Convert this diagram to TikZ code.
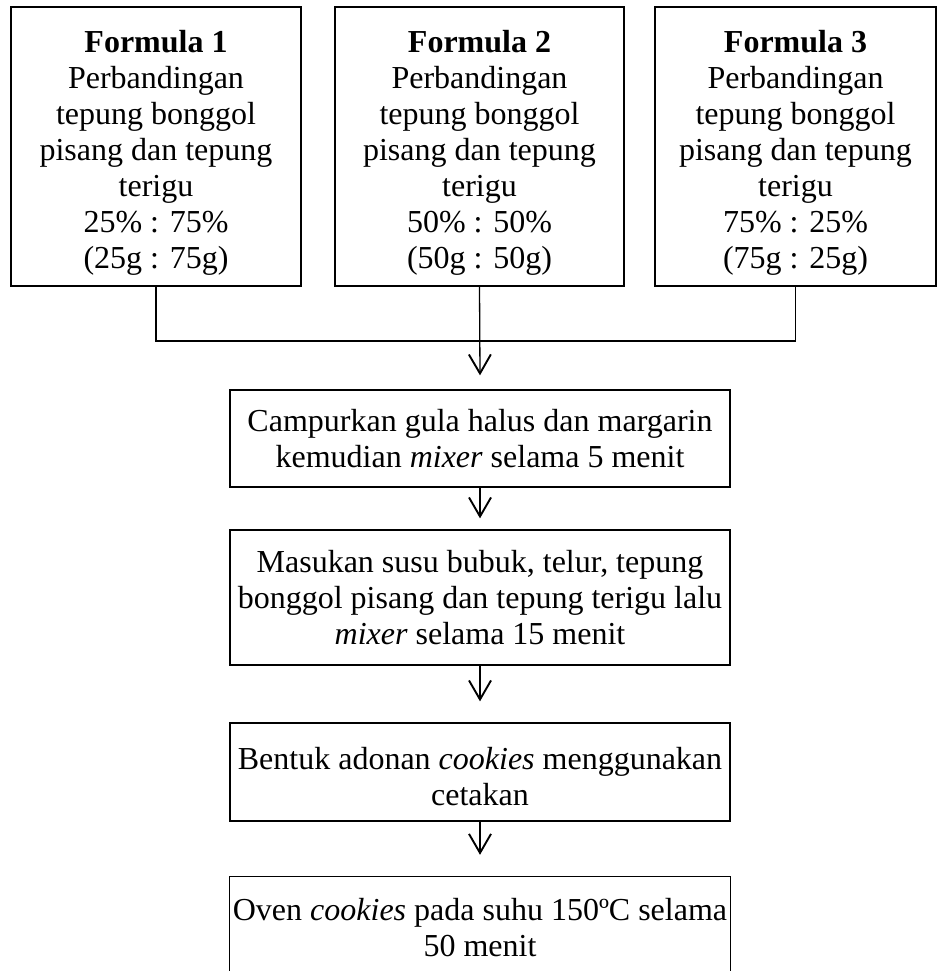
\documentclass[tikz,border=0pt]{standalone}
\usepackage{fontspec}
\setmainfont{Liberation Serif}
\usetikzlibrary{arrows.meta}
\newcommand{\toppad}[1]{\rule{0pt}{#1}}
\begin{document}
\begin{tikzpicture}[x=1pt,y=-1pt,
  every node/.style={font=\fontsize{32}{36}\selectfont, align=center, inner sep=0pt},
  fbox/.style={draw, line width=1.3pt, minimum height=279pt},
  sbox/.style={draw, line width=1.3pt, minimum width=500pt},
  conn/.style={line width=1.3pt},
  arr/.style={line width=1.3pt, -{Straight Barb[length=19pt,width=22pt,line width=1.9pt]}}]
\useasboundingbox (0,0) rectangle (940,971);
\node[fbox, minimum width=290pt] (f1) at (156,146.5)
  {\toppad{34pt}\textbf{Formula 1}\\Perbandingan\\tepung bonggol\\pisang dan tepung\\terigu\\25\% : 75\%\\(25g : 75g)};
\node[fbox, minimum width=289pt] (f2) at (479.5,146.5)
  {\toppad{34pt}\textbf{Formula 2}\\Perbandingan\\tepung bonggol\\pisang dan tepung\\terigu\\50\% : 50\%\\(50g : 50g)};
\node[fbox, minimum width=281pt] (f3) at (795.5,146.5)
  {\toppad{34pt}\textbf{Formula 3}\\Perbandingan\\tepung bonggol\\pisang dan tepung\\terigu\\75\% : 25\%\\(75g : 25g)};
\coordinate (j1) at (156,341);
\coordinate (j3) at (795.5,341);
\node[sbox, minimum height=97pt] (s1) at (480,438.5)
  {Campurkan gula halus dan margarin\\kemudian \textit{mixer} selama 5 menit};
\node[sbox, minimum height=135pt] (s2) at (480,597.5)
  {Masukan susu bubuk, telur, tepung\\bonggol pisang dan tepung terigu lalu\\\textit{mixer} selama 15 menit};
\node[sbox, minimum height=98pt] (s3) at (480,772)
  {\toppad{32pt}Bentuk adonan \textit{cookies} menggunakan\\cetakan};
\node[minimum width=500pt, minimum height=98pt] (s4) at (480,926)
  {\toppad{26pt}Oven \textit{cookies} pada suhu 150ºC selama\\50 menit};
\draw[line width=1.3pt] (s4.south west) -- (s4.north west) -- (s4.north east) -- (s4.south east);
\draw[conn] (f1.south) -- (j1) -- (j3) -- (f3.south);
\draw[arr] (f2.south) -- ([yshift=14pt]s1.north);
\draw[arr] (s1.south) -- ([yshift=11pt]s2.north);
\draw[arr] (s2.south) -- ([yshift=21pt]s3.north);
\draw[arr] (s3.south) -- ([yshift=22pt]s4.north);
\end{tikzpicture}
\end{document}
